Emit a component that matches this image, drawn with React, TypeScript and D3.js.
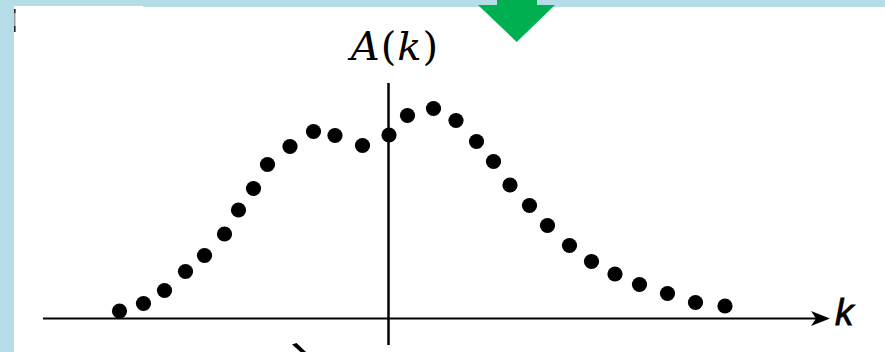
import React from "react";
import * as d3 from "d3";

// Sampled amplitude A(k) at each wavenumber k
const kValues = [
  -26.9, -24.5, -22.4, -20.3, -18.4, -16.4, -15.0, -13.5, -12.1, -9.85,
  -7.5, -5.35, -2.6, 0.05, 1.9, 4.5, 6.75, 8.8, 10.5, 12.15,
  14.1, 15.9, 18.1, 20.3, 22.65, 25.1, 27.9, 30.7, 33.65,
];
const aValues = [
  0.75, 1.5, 2.8, 4.7, 6.3, 8.45, 10.85, 13.0, 15.4, 17.2,
  18.7, 18.3, 17.3, 18.35, 20.3, 21.0, 19.8, 17.7, 15.7, 13.35,
  11.3, 9.3, 7.3, 5.7, 4.45, 3.4, 2.5, 1.6, 1.25,
];

const W = 885;
const H = 352;

export default function App() {
  const x = d3.scaleLinear().domain([-34.55, 44.15]).range([43, 830]);
  const y = d3.scaleLinear().domain([0, 23.5]).range([318.5, 83.5]);
  const x0 = x(0);
  const y0 = y(0);

  const points = kValues.map((k, i) => ({ k, a: aValues[i] }));

  return (
    <svg
      width={W}
      height={H}
      viewBox={`0 0 ${W} ${H}`}
      style={{ position: "absolute", left: 0, top: 0, display: "block" }}
    >
      {/* frame */}
      <rect x={0} y={0} width={W} height={H} fill="#b5dde7" />
      <rect x={14} y={7} width={W - 14} height={H - 7} fill="#ffffff" />
      <rect x={14} y={6} width={129} height={2} fill="#ffffff" />
      <rect x={14} y={9} width={1.5} height={23} fill="#9a9a9a" />
      <rect x={14} y={9} width={1.5} height={4} fill="#222" />
      <rect x={14} y={26} width={1.5} height={6} fill="#222" />

      {/* green pointer */}
      <path d="M497,0 L537,0 L537,5 L555,5 L516.7,42 L478,5 L497,5 Z" fill="#00b050" />

      {/* axes */}
      <line x1={43} y1={y0} x2={816} y2={y0} stroke="#000" strokeWidth={2} />
      <path
        d={`M830,${y0} L811,${y0 - 7.5} L816,${y0} L811,${y0 + 7.5} Z`}
        fill="#000"
      />
      <line x1={x0} y1={83} x2={x0} y2={345} stroke="#000" strokeWidth={2.5} />

      {/* samples */}
      {points.map((p, i) => (
        <circle key={i} cx={x(p.k)} cy={y(p.a)} r={7.6} fill="#000" />
      ))}

      {/* labels */}
      <text
        x={395}
        y={60}
        textAnchor="middle"
        fontFamily="'DejaVu Serif', serif"
        fontSize={40}
        letterSpacing={1}
        fill="#000"
      >
        <tspan fontStyle="italic">A</tspan>
        <tspan>(</tspan>
        <tspan fontStyle="italic">k</tspan>
        <tspan>)</tspan>
      </text>
      <text
        x={835}
        y={325}
        fontFamily="'Liberation Sans', Arial, sans-serif"
        fontStyle="italic"
        fontSize={37}
        fill="#000"
        stroke="#000"
        strokeWidth={0.8}
      >
        k
      </text>

      {/* stroke fragment below the axis */}
      <path d="M292,344.5 L296.5,343 L306,352 L300.5,352 Z" fill="#000" />
    </svg>
  );
}
